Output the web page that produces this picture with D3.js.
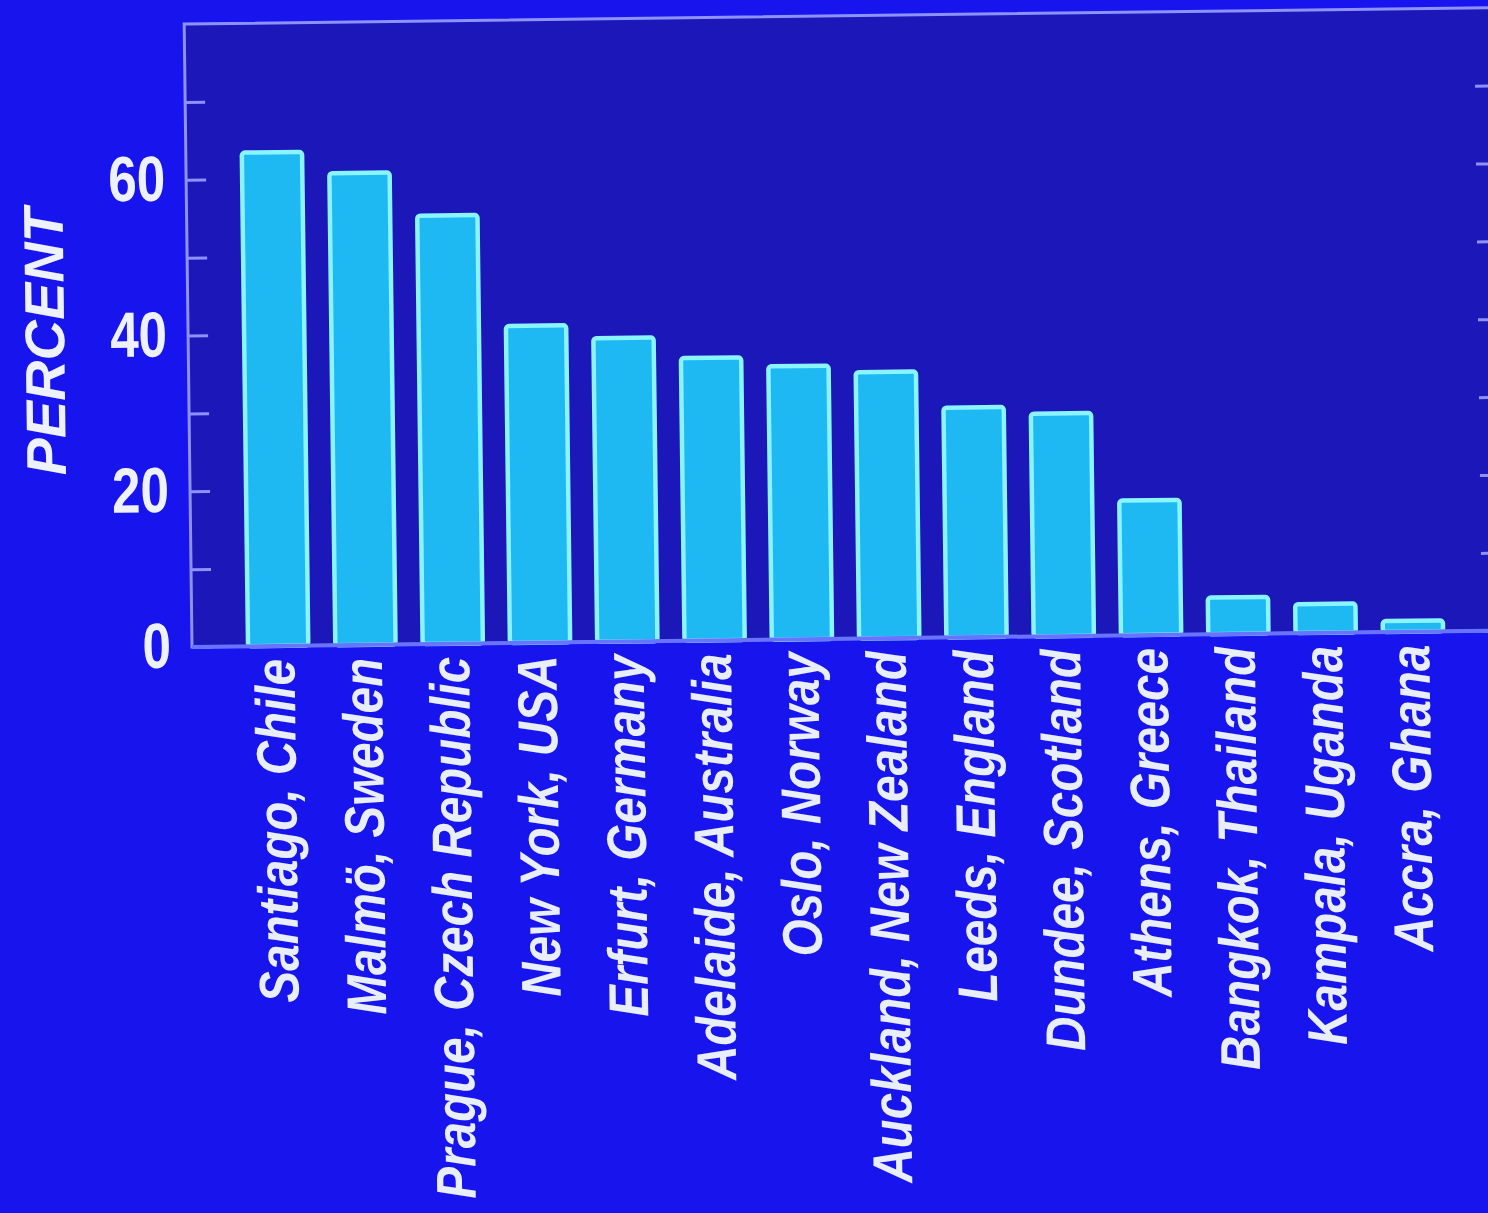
<!DOCTYPE html>
<html>
<head>
<meta charset="utf-8">
<script src="https://cdn.jsdelivr.net/npm/d3@7"></script>
<style>
  html, body { margin: 0; padding: 0; background: #1814ee; }
  svg { display: block; }
</style>
</head>
<body>
<svg id="chart"></svg>
<script>
// data
const cities = ["Santiago, Chile", "Malmö, Sweden", "Prague, Czech Republic", "New York, USA",
  "Erfurt, Germany", "Adelaide, Australia", "Oslo, Norway", "Auckland, New Zealand",
  "Leeds, England", "Dundee, Scotland", "Athens, Greece", "Bangkok, Thailand",
  "Kampala, Uganda", "Accra, Ghana"];
const percent = [63.4, 60.6, 55.0, 40.7, 39.0, 36.3, 35.1, 34.2, 29.5, 28.6, 17.3, 4.7, 3.7, 1.4];
const yTickLabels = [0, 20, 40, 60];
const yTicks = [0, 10, 20, 30, 40, 50, 60, 70];

const svgWidth = 1488, svgHeight = 1213;
const plotLeft = 192, plotRight = 1502, plotTop = 24, plotBottom = 647;

const svg = d3.select("#chart")
  .attr("width", svgWidth)
  .attr("height", svgHeight);

svg.append("rect")
  .attr("width", svgWidth).attr("height", svgHeight)
  .attr("fill", "#1814ee");

// the photo is tilted a little
const g = svg.append("g")
  .attr("transform", "rotate(-0.72," + plotLeft + "," + plotBottom + ")");

const x = d3.scaleBand()
  .domain(cities)
  .range([234.5, 1456.7])
  .paddingInner(0.31)
  .paddingOuter(0.155);

const y = d3.scaleLinear()
  .domain([0, 80])
  .range([plotBottom, plotTop]);

// plot area
g.append("rect")
  .attr("x", plotLeft).attr("y", y(80))
  .attr("width", plotRight - plotLeft).attr("height", y(0) - y(80))
  .attr("fill", "#1c17b8")
  .attr("stroke", "#8c92ff")
  .attr("stroke-width", 3);

// ticks inside, left and right
const leftAxis = d3.axisRight(y).tickValues(yTicks).tickSize(20).tickFormat("");
const rightAxis = d3.axisLeft(y).tickValues(yTicks).tickSize(20).tickFormat("");
g.append("g").attr("transform", "translate(" + plotLeft + ",0)").call(leftAxis)
  .call(a => a.select(".domain").remove())
  .selectAll("line").attr("stroke", "#8c92ff").attr("stroke-width", 3);
g.append("g").attr("transform", "translate(" + plotRight + ",0)").call(rightAxis)
  .call(a => a.select(".domain").remove())
  .selectAll("line").attr("stroke", "#8c92ff").attr("stroke-width", 3);

// bars
g.selectAll(".bar")
  .data(percent)
  .enter()
  .append("rect")
  .attr("class", "bar")
  .attr("x", (d, i) => x(cities[i]))
  .attr("y", d => y(d))
  .attr("width", x.bandwidth())
  .attr("height", d => y(0) - y(d))
  .attr("rx", 3)
  .attr("fill", "#1eb8f2")
  .attr("stroke", "#8af4ff")
  .attr("stroke-width", 4.5);

// baseline
g.append("line")
  .attr("x1", plotLeft).attr("x2", plotRight)
  .attr("y1", y(0)).attr("y2", y(0))
  .attr("stroke", "#6874ff")
  .attr("stroke-width", 4);

// y tick labels, narrow digits
g.selectAll(".ylab")
  .data(yTickLabels)
  .enter()
  .append("g")
  .attr("class", "ylab")
  .attr("transform", d => "translate(171," + y(d) + ") scale(0.8,1)")
  .append("text")
  .attr("text-anchor", "end")
  .attr("dy", "0.32em")
  .attr("font-family", "Liberation Sans, Arial, sans-serif")
  .attr("font-size", 64)
  .attr("font-weight", "bold")
  .attr("fill", "#eef2ff")
  .text(d => d);

// y title
g.append("text")
  .attr("transform", "translate(48,340) rotate(-90)")
  .attr("text-anchor", "middle")
  .attr("dy", "0.36em")
  .attr("font-family", "Liberation Sans, Arial, sans-serif")
  .attr("font-size", 56)
  .attr("font-weight", "bold")
  .attr("font-style", "italic")
  .attr("fill", "#eef2ff")
  .text("PERCENT");

// category labels, condensed bold italic
g.selectAll(".xlab")
  .data(cities)
  .enter()
  .append("text")
  .attr("class", "xlab")
  .attr("transform", d => "translate(" + (x(d) + x.bandwidth() / 2 - 4) + "," + (plotBottom + 13) + ") rotate(-90) scale(0.85,1)")
  .attr("text-anchor", "end")
  .attr("dy", "0.36em")
  .attr("font-family", "Liberation Sans, Arial, sans-serif")
  .attr("font-size", 56)
  .attr("font-weight", "bold")
  .attr("font-style", "italic")
  .attr("fill", "#e8eefa")
  .text(d => d);
</script>
</body>
</html>
